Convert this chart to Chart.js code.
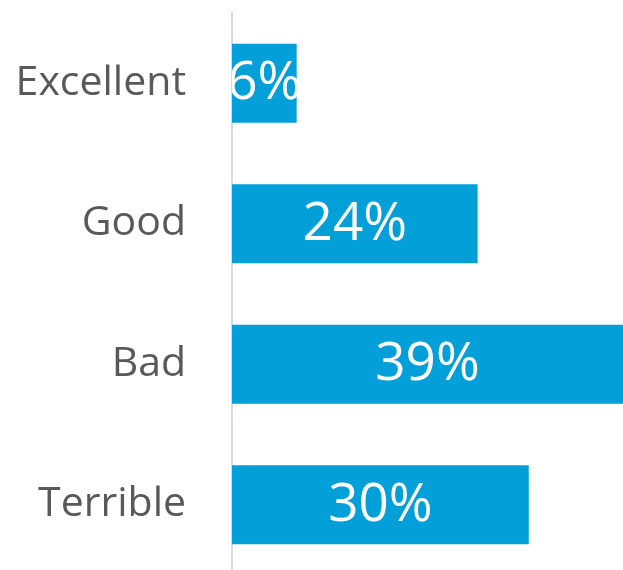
<!DOCTYPE html>
<html>
<head>
<meta charset="utf-8">
<script src="https://cdn.jsdelivr.net/npm/chart.js@4/dist/chart.umd.min.js"></script>
<style>
  html, body { margin: 0; padding: 0; background: #ffffff; overflow: hidden; }
  #clip { width: 623px; height: 570px; overflow: hidden; position: relative; }
  canvas { position: absolute; left: 0; top: 0; }
</style>
</head>
<body>
<div id="clip"><canvas id="c" width="623" height="575"></canvas></div>
<script>
const categories = ["Excellent", "Good", "Bad", "Terrible"];
const values = [6.45, 24.5, 39, 29.6];
const valueLabels = ["6%", "24%", "39%", "30%"];

const FONT = "'Open Sans', sans-serif";

const valueLabelPlugin = {
  id: 'valueLabels',
  afterDatasetsDraw(chart) {
    const ctx = chart.ctx;
    const meta = chart.getDatasetMeta(0);
    const area = chart.chartArea;
    ctx.save();
    ctx.beginPath();
    ctx.rect(area.left, area.top, area.right - area.left, area.bottom - area.top);
    ctx.clip();
    ctx.fillStyle = '#ffffff';
    ctx.font = "53px " + FONT;
    ctx.textAlign = 'center';
    ctx.textBaseline = 'middle';
    meta.data.forEach((bar, i) => {
      const cx = (bar.base + bar.x) / 2;
      ctx.fillText(valueLabels[i], cx, bar.y + 1);
    });
    ctx.restore();
  }
};

new Chart(document.getElementById('c'), {
  type: 'bar',
  data: {
    labels: categories,
    datasets: [{
      data: values,
      backgroundColor: '#039FD9',
      borderWidth: 0,
      categoryPercentage: 1.0,
      barPercentage: 0.562
    }]
  },
  options: {
    indexAxis: 'y',
    responsive: false,
    animation: false,
    layout: { padding: { left: 0, right: 0, top: 13, bottom: 0 } },
    plugins: { legend: { display: false }, tooltip: { enabled: false } },
    scales: {
      x: {
        display: false,
        min: 0,
        max: 39,
        grid: { display: false }
      },
      y: {
        afterFit(scale) {
          scale.width = 232;
          scale.paddingTop = 0;
          scale.paddingBottom = 0;
        },
        grid: { display: false, drawTicks: false },
        border: { display: true, color: '#D9D9D9', width: 2 },
        ticks: {
          color: '#595959',
          padding: 46,
          font: { family: FONT, size: 41 }
        }
      }
    }
  },
  plugins: [valueLabelPlugin]
});
</script>
</body>
</html>
